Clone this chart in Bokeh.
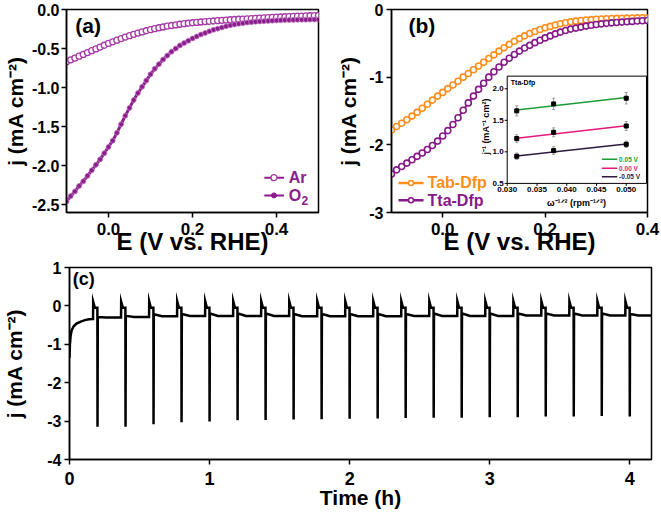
import numpy as np
from bokeh.plotting import figure
from bokeh.layouts import column, row
from bokeh.models import Range1d, FixedTicker, PrintfTickFormatter, Label
from bokeh.core.properties import value
from bokeh.embed import file_html
from bokeh.resources import INLINE

FONT = "Liberation Sans"

# ---------------- data: panel (a) ----------------
E_a = [round(-0.10 + 0.01 * i, 2) for i in range(61)]
j_ar = [-0.670, -0.645, -0.622, -0.598, -0.575, -0.552, -0.528, -0.505, -0.482, -0.458,
        -0.435, -0.414, -0.393, -0.373, -0.353, -0.335, -0.318, -0.302, -0.287, -0.272,
        -0.258, -0.246, -0.234, -0.224, -0.214, -0.205, -0.197, -0.189, -0.182, -0.176,
        -0.170, -0.165, -0.160, -0.155, -0.151, -0.147, -0.143, -0.139, -0.135, -0.131,
        -0.128, -0.125, -0.122, -0.119, -0.116, -0.113, -0.110, -0.107, -0.104, -0.101,
        -0.098, -0.096, -0.093, -0.091, -0.088, -0.086, -0.084, -0.082, -0.080, -0.078,
        -0.076]
j_o2 = [-2.46, -2.39, -2.33, -2.26, -2.20, -2.13, -2.06, -1.99, -1.92, -1.84,
        -1.76, -1.68, -1.58, -1.47, -1.36, -1.26, -1.16, -1.07, -0.99, -0.91,
        -0.83, -0.76, -0.70, -0.64, -0.59, -0.54, -0.50, -0.46, -0.43, -0.40,
        -0.37, -0.345, -0.32, -0.30, -0.28, -0.26, -0.245, -0.23, -0.215, -0.203,
        -0.192, -0.183, -0.175, -0.168, -0.162, -0.157, -0.153, -0.149, -0.146, -0.143,
        -0.140, -0.138, -0.136, -0.134, -0.133, -0.132, -0.131, -0.130, -0.129, -0.128,
        -0.127]
legend_a = ["Ar", "O2"]

# ---------------- data: panel (b) ----------------
E_b = [round(-0.10 + 0.01 * i, 2) for i in range(51)]
j_tab = [-1.78, -1.73, -1.68, -1.63, -1.575, -1.52, -1.46, -1.40, -1.34, -1.28,
         -1.225, -1.17, -1.115, -1.06, -1.00, -0.945, -0.89, -0.835, -0.78, -0.725,
         -0.67, -0.615, -0.565, -0.515, -0.47, -0.43, -0.39, -0.355, -0.325, -0.295,
         -0.27, -0.25, -0.23, -0.21, -0.195, -0.182, -0.172, -0.163, -0.155, -0.149,
         -0.144, -0.140, -0.136, -0.133, -0.131, -0.129, -0.127, -0.125, -0.124, -0.123,
         -0.122]
j_tta = [-2.43, -2.37, -2.32, -2.27, -2.22, -2.17, -2.12, -2.07, -2.01, -1.945,
         -1.87, -1.79, -1.70, -1.60, -1.49, -1.38, -1.28, -1.18, -1.09, -1.00,
         -0.92, -0.85, -0.78, -0.72, -0.665, -0.615, -0.57, -0.53, -0.49, -0.455,
         -0.42, -0.39, -0.36, -0.335, -0.31, -0.29, -0.275, -0.26, -0.245, -0.233,
         -0.222, -0.213, -0.205, -0.198, -0.192, -0.186, -0.181, -0.176, -0.171, -0.166,
         -0.162]
legend_b = ["Tab-Dfp", "Tta-Dfp"]

# inset (Koutecky-Levich)
kl_x = [0.0316, 0.0378, 0.0500]
kl_y_p05 = [1.65, 1.76, 1.85]
kl_y_000 = [1.21, 1.31, 1.41]
kl_y_m05 = [0.93, 1.02, 1.12]
kl_err_p05 = [0.08, 0.09, 0.09]
kl_err_000 = [0.06, 0.07, 0.07]
kl_err_m05 = [0.05, 0.06, 0.05]
kl_fit_x = [0.0316, 0.0500]
kl_fit_p05 = [1.665, 1.860]
kl_fit_000 = [1.215, 1.415]
kl_fit_m05 = [0.935, 1.125]
kl_labels = ["0.05 V", "0.00 V", "-0.05 V"]
kl_xticks = [0.030, 0.035, 0.040, 0.045, 0.050]
kl_yticks = [0.5, 1.0, 1.5, 2.0]

# ---------------- data: panel (c) ----------------
t_init = [0.0, 0.003, 0.008, 0.015, 0.03, 0.05, 0.08, 0.11, 0.14, 0.160]
j_init = [-1.35, -1.0, -0.78, -0.64, -0.53, -0.46, -0.41, -0.37, -0.35, -0.34]
t_up = [0.168, 0.368, 0.568, 0.768, 0.968, 1.168, 1.368, 1.568, 1.768, 1.968,
        2.168, 2.368, 2.568, 2.768, 2.968, 3.168, 3.368, 3.568, 3.768, 3.968]
t_down = [0.20, 0.40, 0.60, 0.80, 1.00, 1.20, 1.40, 1.60, 1.80, 2.00,
          2.20, 2.40, 2.60, 2.80, 3.00, 3.20, 3.40, 3.60, 3.80, 4.00]
spike_top = [0.11, 0.11, 0.12, 0.12, 0.12, 0.12, 0.12, 0.12, 0.12, 0.12,
             0.12, 0.12, 0.12, 0.12, 0.12, 0.12, 0.12, 0.12, 0.12, 0.12]
spike_shoulder = [-0.05, -0.05, -0.05, -0.05, -0.05, -0.05, -0.05, -0.05, -0.05, -0.05,
                  -0.05, -0.05, -0.05, -0.05, -0.05, -0.05, -0.05, -0.05, -0.05, -0.05]
spike_min = [-3.15, -3.15, -3.08, -3.03, -3.01, -2.98, -2.97, -2.96, -2.95, -2.94,
             -2.93, -2.92, -2.91, -2.91, -2.90, -2.90, -2.88, -2.88, -2.87, -2.88]
base_after = [-0.29, -0.26, -0.22, -0.21, -0.20, -0.20, -0.20, -0.21, -0.21, -0.21,
              -0.21, -0.21, -0.20, -0.20, -0.20, -0.20, -0.20, -0.20, -0.20, -0.21]
base_end = [-0.30, -0.29, -0.27, -0.26, -0.26, -0.26, -0.26, -0.27, -0.27, -0.27,
            -0.27, -0.26, -0.26, -0.26, -0.26, -0.25, -0.25, -0.25, -0.25, -0.25]
t_end = 4.155

PURPLE_L = "#A43AA6"
PURPLE = "#8A1C8C"
ORANGE = "#FF8E1C"
TTA = "#86198A"


def style(p, xt, yt, xfmt, yfmt, xts, yts, xls, yls, xmls, ymls, xals, yals):
    p.outline_line_color = "black"
    p.outline_line_width = 1.5
    p.outline_line_alpha = 1.0
    p.xgrid.visible = False
    p.ygrid.visible = False
    p.background_fill_color = "white"
    p.border_fill_color = "white"
    p.xaxis.ticker = FixedTicker(ticks=xt)
    p.yaxis.ticker = FixedTicker(ticks=yt)
    p.xaxis.formatter = PrintfTickFormatter(format=xfmt)
    p.yaxis.formatter = PrintfTickFormatter(format=yfmt)
    for ax, ts, ls, mls, als in ((p.xaxis[0], xts, xls, xmls, xals), (p.yaxis[0], yts, yls, ymls, yals)):
        ax.axis_line_width = 1.5
        ax.axis_line_color = "black"
        ax.major_tick_line_width = 1.5
        ax.major_tick_line_color = "black"
        ax.major_tick_out = 5
        ax.major_tick_in = 0
        ax.minor_tick_line_color = None
        ax.major_label_text_font = FONT
        ax.major_label_text_font_style = "bold"
        ax.major_label_text_font_size = ts
        ax.major_label_text_color = "black"
        ax.major_label_standoff = mls
        ax.axis_label_text_font = FONT
        ax.axis_label_text_font_style = "bold"
        ax.axis_label_text_font_size = ls
        ax.axis_label_text_color = "black"
        ax.axis_label_standoff = als


# ---------------- panel (a) ----------------
pa = figure(width=330, height=258, x_range=Range1d(-0.1, 0.5), y_range=Range1d(-2.6, 0.0),
            output_backend="svg", toolbar_location=None,
            min_border_left=63, min_border_right=12, min_border_top=9, min_border_bottom=46)
style(pa, [0.0, 0.2, 0.4], [0.0, -0.5, -1.0, -1.5, -2.0, -2.5], "%.1f", "%.1f",
      "17px", "16px", "24px", "21px", 5, 2, -10, 2)
pa.xaxis.axis_label = "E (V vs. RHE)"
pa.yaxis.axis_label = "j (mA cm⁻²)"

pa.line(E_a, j_ar, line_color=PURPLE_L, line_width=1.5)
pa.scatter(E_a, j_ar, marker="circle", size=6, line_color=PURPLE_L, fill_color="white", line_width=1.3)
pa.line(E_a, j_o2, line_color=PURPLE, line_width=3)
pa.scatter(E_a, j_o2, marker="circle", size=5, line_color="#C27EC3", fill_color=PURPLE, line_width=0.8)

# legend (a)
lax = [0.371, 0.418]
lay = [-2.154, -2.381]
pa.segment(x0=[lax[0]] * 2, x1=[lax[1]] * 2, y0=lay, y1=lay, line_color=PURPLE, line_width=2)
pa.scatter([0.394], [lay[0]], marker="circle", size=6, line_color=PURPLE_L, fill_color="white", line_width=1.3)
pa.scatter([0.394], [lay[1]], marker="circle", size=5, line_color=PURPLE, fill_color=PURPLE)
pa.text(x=[0.429, 0.429], y=lay, text=[legend_a[0], legend_a[1][0]], text_font=value(FONT),
        text_font_style="bold", text_font_size="16px", text_color=PURPLE,
        text_baseline="middle", text_align="left")
pa.text(x=[0.4595], y=[lay[1] - 0.06], text=[legend_a[1][1:]], text_font=value(FONT),
        text_font_style="bold", text_font_size="12px", text_color=PURPLE,
        text_baseline="middle", text_align="left")
pa.add_layout(Label(x=-0.079, y=-0.211, text="(a)", text_font=FONT, text_font_style="bold",
                    text_font_size="21px", text_color="black", text_baseline="middle"))

# ---------------- panel (b) ----------------
XB0, XB1, YB0, YB1 = -0.1, 0.4, -3.0, 0.0
pb = figure(width=331, height=258, x_range=Range1d(XB0, XB1), y_range=Range1d(YB0, YB1),
            output_backend="svg", toolbar_location=None,
            min_border_left=61, min_border_right=14, min_border_top=9, min_border_bottom=46)
style(pb, [0.0, 0.2, 0.4], [0, -1, -2, -3], "%.1f", "%d",
      "17px", "16px", "24px", "21px", 5, 3, -10, 6)
pb.xaxis.axis_label = "E (V vs. RHE)"
pb.yaxis.axis_label = "j (mA cm⁻²)"

pb.line(E_b, j_tab, line_color=ORANGE, line_width=2)
pb.scatter(E_b, j_tab, marker="circle", size=6, line_color=ORANGE, fill_color="white", line_width=1.6)
pb.line(E_b, j_tta, line_color=TTA, line_width=2)
pb.scatter(E_b, j_tta, marker="circle", size=6, line_color=TTA, fill_color="white", line_width=1.6)

lbx = [-0.0863, -0.0374]
lby = [-2.563, -2.818]
pb.segment(x0=[lbx[0]] * 2, x1=[lbx[1]] * 2, y0=lby, y1=lby, line_color=[ORANGE, TTA], line_width=2.5)
pb.scatter([-0.0619] * 2, lby, marker="circle", size=5, line_color=[ORANGE, TTA], fill_color="white", line_width=1.5)
pb.text(x=[-0.0296] * 2, y=lby, text=legend_b, text_font=value(FONT), text_font_style="bold",
        text_font_size="16px", text_color=[ORANGE, TTA], text_baseline="middle", text_align="left")
pb.add_layout(Label(x=-0.067, y=-0.243, text="(b)", text_font=FONT, text_font_style="bold",
                    text_font_size="21px", text_color="black", text_baseline="middle"))

# inset placement (in main data coords) and inset data limits
INS_L, INS_R, INS_B, INS_T = 0.126, 0.398, -2.57, -0.985
IX0, IX1, IY0, IY1 = 0.030, 0.0534, 0.5, 2.2
fx0 = (INS_L - XB0) / (XB1 - XB0)
fx1 = (INS_R - XB0) / (XB1 - XB0)
fy0 = (INS_B - YB0) / (YB1 - YB0)
fy1 = (INS_T - YB0) / (YB1 - YB0)
sx = (IX1 - IX0) / (fx1 - fx0)
sy = (IY1 - IY0) / (fy1 - fy0)
pb.extra_x_ranges = {"ix": Range1d(IX0 - fx0 * sx, IX0 - fx0 * sx + sx)}
pb.extra_y_ranges = {"iy": Range1d(IY0 - fy0 * sy, IY0 - fy0 * sy + sy)}
R = dict(x_range_name="ix", y_range_name="iy")
px_x = (IX1 - IX0) / 137.4   # one pixel in inset x units
px_y = (IY1 - IY0) / 107.6   # one pixel in inset y units

pb.quad(left=[IX0], right=[IX1], bottom=[IY0], top=[IY1], fill_color="white",
        line_color="black", line_width=1, **R)
pb.segment(x0=kl_xticks, x1=kl_xticks, y0=[IY0] * 5, y1=[IY0 - 2.5 * px_y] * 5,
           line_color="black", line_width=1, **R)
pb.segment(x0=[IX0] * 4, x1=[IX0 - 2.5 * px_x] * 4, y0=kl_yticks, y1=kl_yticks,
           line_color="black", line_width=1, **R)
pb.text(x=kl_xticks, y=[IY0 - 3.5 * px_y] * 5, text=[f"{t:.3f}" for t in kl_xticks],
        text_font=value(FONT), text_font_style="bold", text_font_size="8px",
        text_align="center", text_baseline="top", text_color="black", **R)
pb.text(x=[IX0 - 3.5 * px_x] * 4, y=kl_yticks, text=[f"{t:.1f}" for t in kl_yticks],
        text_font=value(FONT), text_font_style="bold", text_font_size="8px",
        text_align="right", text_baseline="middle", text_color="black", **R)
pb.text(x=[0.02637], y=[1.40], text=["j⁻¹ (mA⁻¹ cm²)"], angle=np.pi / 2,
        text_font=value(FONT), text_font_style="bold", text_font_size="9px",
        text_align="center", text_baseline="middle", text_color="black", **R)
pb.text(x=[0.04165], y=[0.182], text=["ω⁻¹ᐟ² (rpm⁻¹ᐟ²)"],
        text_font=value(FONT), text_font_style="bold", text_font_size="9px",
        text_align="center", text_baseline="middle", text_color="black", **R)
pb.text(x=[0.0306], y=[2.107], text=["Tta-Dfp"],
        text_font=value(FONT), text_font_style="bold", text_font_size="7px",
        text_align="left", text_baseline="middle", text_color="black", **R)

KL_COL = ["#1E9B37", "#E3197B", "#2B1B3F"]
for ys, es, fit, col in ((kl_y_p05, kl_err_p05, kl_fit_p05, KL_COL[0]),
                         (kl_y_000, kl_err_000, kl_fit_000, KL_COL[1]),
                         (kl_y_m05, kl_err_m05, kl_fit_m05, KL_COL[2])):
    lo = [y - e for y, e in zip(ys, es)]
    hi = [y + e for y, e in zip(ys, es)]
    pb.segment(x0=kl_x, x1=kl_x, y0=lo, y1=hi, line_color="#9a9a9a", line_width=1, **R)
    pb.segment(x0=[x - 1.5 * px_x for x in kl_x], x1=[x + 1.5 * px_x for x in kl_x], y0=lo, y1=lo,
               line_color="#9a9a9a", line_width=1, **R)
    pb.segment(x0=[x - 1.5 * px_x for x in kl_x], x1=[x + 1.5 * px_x for x in kl_x], y0=hi, y1=hi,
               line_color="#9a9a9a", line_width=1, **R)
    pb.line(kl_fit_x, fit, line_color=col, line_width=1.5, **R)
    pb.scatter(kl_x, ys, marker="square", size=4, fill_color="black", line_color="black", **R)

leg_iy = [0.882, 0.739, 0.605]
pb.segment(x0=[0.0459] * 3, x1=[0.0485] * 3, y0=leg_iy, y1=leg_iy, line_color=KL_COL, line_width=1.5, **R)
pb.text(x=[0.0488] * 3, y=leg_iy, text=kl_labels, text_font=value(FONT), text_font_style="bold",
        text_font_size="6.5px", text_color=KL_COL, text_align="left", text_baseline="middle", **R)

# ---------------- panel (c) ----------------
pc = figure(width=661, height=255, x_range=Range1d(0, t_end), y_range=Range1d(-4, 1),
            output_backend="svg", toolbar_location=None,
            min_border_left=66, min_border_right=10, min_border_top=9, min_border_bottom=54)
style(pc, [0, 1, 2, 3, 4], [-4, -3, -2, -1, 0, 1], "%d", "%d",
      "18px", "16px", "21px", "21px", 7, 3, -2, 18)
pc.xaxis.axis_label = "Time (h)"
pc.yaxis.axis_label = "j (mA cm⁻²)"

tt = list(t_init)
jj = list(j_init)
for i in range(len(t_down)):
    prev = base_end[i - 1] if i > 0 else j_init[-1]
    tt += [t_up[i], t_up[i] + 0.001, t_up[i] + 0.013, t_down[i] - 0.001, t_down[i],
           t_down[i] + 0.002, t_down[i] + 0.004]
    jj += [prev, spike_top[i], spike_shoulder[i], spike_shoulder[i], spike_min[i],
           base_after[i], base_after[i]]
    t_next = t_up[i + 1] if i + 1 < len(t_up) else t_end
    tt += [t_down[i] + 0.06, t_next - 0.001]
    jj += [base_end[i], base_end[i]]
pc.line(tt, jj, line_color="black", line_width=2.5, line_join="miter")
pc.add_layout(Label(x=0.023, y=0.695, text="(c)", text_font=FONT, text_font_style="bold",
                    text_font_size="18px", text_color="black", text_baseline="middle"))

layout = column(row(pa, pb, spacing=0), pc, spacing=0)
open("out.html", "w").write(file_html(layout, INLINE))
